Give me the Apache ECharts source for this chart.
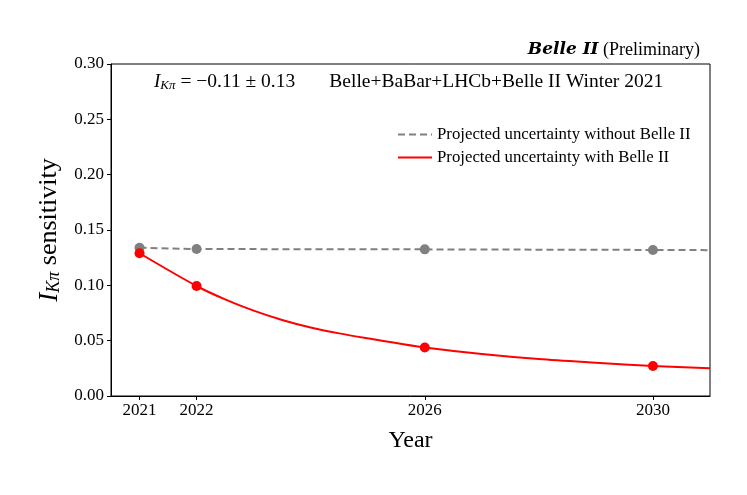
<!DOCTYPE html>
<html>
<head>
<meta charset="utf-8">
<script src="https://cdn.jsdelivr.net/npm/echarts@6/dist/echarts.min.js"></script>
<style>
html,body{margin:0;padding:0;background:#fff;}
#chart{width:747px;height:495px;}
</style>
</head>
<body>
<div id="chart"></div>
<script>
// Data
var curveYears = [2021, 2022, 2022.5, 2023, 2023.5, 2024, 2024.5, 2025, 2025.5, 2026, 2027, 2028, 2029, 2030, 2031];
var withBelle2 = [0.129, 0.0994, 0.0873, 0.0771, 0.0687, 0.0619, 0.0566, 0.0521, 0.0479, 0.0439, 0.038, 0.0334, 0.0301, 0.0271, 0.025];
var greyYears = [2021, 2022, 2026, 2030, 2031];
var withoutBelle2 = [0.134, 0.1328, 0.1325, 0.132, 0.1318];
var markerYears = [2021, 2022, 2026, 2030];
var markerWith = [0.129, 0.0994, 0.0439, 0.0271];
var markerWithout = [0.134, 0.1328, 0.1325, 0.132];
var xTicks = [2021, 2022, 2026, 2030];
var legendNames = ['Projected uncertainty without Belle II', 'Projected uncertainty with Belle II'];

function pairs(xs, ys) { return xs.map(function (x, i) { return [x, ys[i]]; }); }

var FONT = 'Liberation Serif';
var chart = echarts.init(document.getElementById('chart'), null, {renderer: 'canvas'});
chart.setOption({
  animation: false,
  backgroundColor: '#fff',
  textStyle: {fontFamily: FONT},
  title: {
    text: '{b|Belle II} {n|(Preliminary)}',
    right: 42, top: 36,
    textStyle: {
      rich: {
        b: {fontFamily: 'DejaVu Serif', fontSize: 17, fontWeight: 'bold', fontStyle: 'italic', color: '#000'},
        n: {fontFamily: FONT, fontSize: 18, fontWeight: 'normal', color: '#000'}
      }
    }
  },
  graphic: [{
    type: 'text',
    left: 154, top: 72,
    style: {
      text: '{i|I}{s|Kπ}{n| = −0.11 ± 0.13       Belle+BaBar+LHCb+Belle II Winter 2021}',
      rich: {
        i: {fontFamily: FONT, fontSize: 19, fontStyle: 'italic', fill: '#000'},
        s: {fontFamily: FONT, fontSize: 13, fontStyle: 'italic', fill: '#000', verticalAlign: 'bottom', padding: [7, 0, 0, 0]},
        n: {fontFamily: FONT, fontSize: 19.5, fill: '#000'}
      }
    }
  }],
  legend: {
    orient: 'vertical',
    left: 392, top: 121,
    itemWidth: 34, itemHeight: 2,
    itemGap: 6,
    itemStyle: {opacity: 0},
    data: legendNames,
    textStyle: {fontFamily: FONT, fontSize: 16.8, color: '#000', padding: [0, 0, 0, 0]}
  },
  grid: {
    left: 111, right: 37, top: 64, bottom: 99,
    show: true, borderColor: '#000', borderWidth: 1, backgroundColor: 'transparent'
  },
  xAxis: {
    type: 'value',
    min: 2020.5, max: 2031,
    name: 'Year',
    nameLocation: 'middle',
    nameGap: 33,
    nameTextStyle: {fontFamily: FONT, fontSize: 24, color: '#000'},
    splitLine: {show: false},
    axisLine: {show: true, onZero: false, lineStyle: {color: '#000', width: 1}},
    axisTick: {show: true, length: 4, customValues: xTicks, lineStyle: {color: '#000'}},
    axisLabel: {customValues: xTicks, fontFamily: FONT, fontSize: 17, color: '#000', margin: 6,
      formatter: function (v) { return String(v); }}
  },
  yAxis: {
    type: 'value',
    min: 0, max: 0.30, interval: 0.05,
    name: '{i|I}{s|Kπ}{n| sensitivity}',
    nameLocation: 'middle',
    nameGap: 48,
    nameRotate: 90,
    nameTextStyle: {
      rich: {
        i: {fontFamily: FONT, fontSize: 27, fontStyle: 'italic', color: '#000'},
        s: {fontFamily: FONT, fontSize: 18, fontStyle: 'italic', color: '#000', verticalAlign: 'bottom', padding: [9, 0, 0, 0]},
        n: {fontFamily: FONT, fontSize: 26, color: '#000'}
      }
    },
    splitLine: {show: false},
    axisLine: {show: true, lineStyle: {color: '#000', width: 1}},
    axisTick: {show: true, length: 4, lineStyle: {color: '#000'}},
    axisLabel: {fontFamily: FONT, fontSize: 17, color: '#000', margin: 7,
      formatter: function (v) { return v.toFixed(2); }}
  },
  series: [
    {
      name: legendNames[0],
      type: 'line',
      data: pairs(greyYears, withoutBelle2),
      symbol: 'none',
      lineStyle: {color: '#808080', width: 2, type: [7, 4]},
      itemStyle: {color: '#808080'},
      z: 2
    },
    {
      name: legendNames[1],
      type: 'line',
      data: pairs(curveYears, withBelle2),
      symbol: 'none',
      smooth: 0.3,
      lineStyle: {color: '#ff0000', width: 2},
      itemStyle: {color: '#ff0000'},
      z: 3
    },
    {
      type: 'scatter',
      data: pairs(markerYears, markerWithout),
      symbolSize: 10,
      itemStyle: {color: '#808080', opacity: 1},
      z: 4
    },
    {
      type: 'scatter',
      data: pairs(markerYears, markerWith),
      symbolSize: 10,
      itemStyle: {color: '#ff0000', opacity: 1},
      z: 5
    }
  ]
});
</script>
</body>
</html>
